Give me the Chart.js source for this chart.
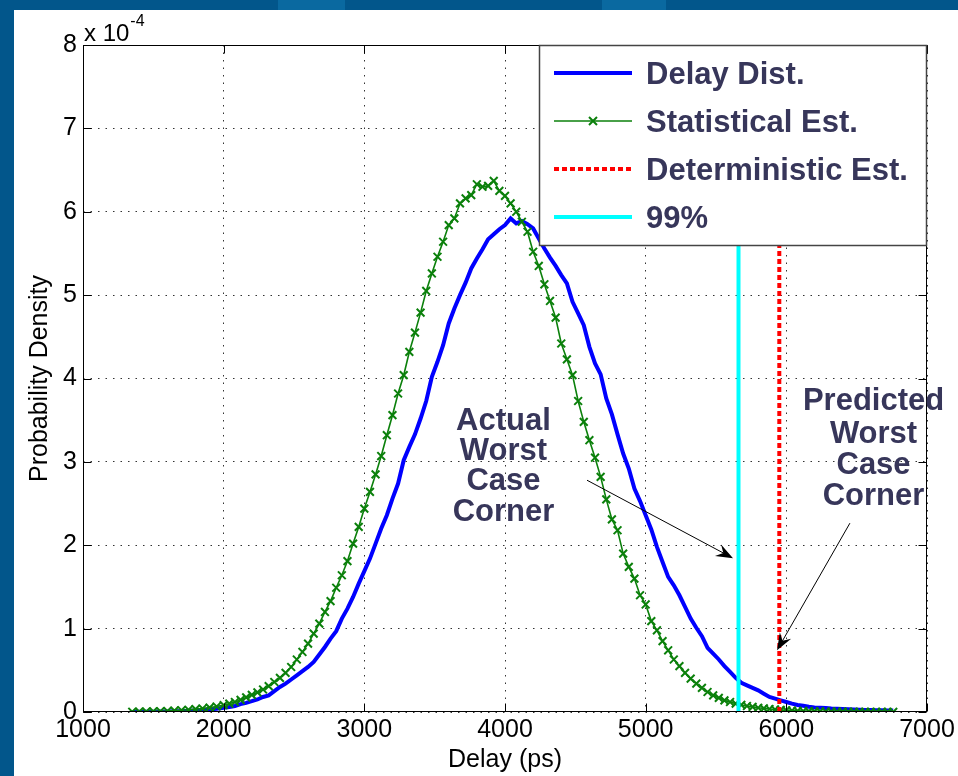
<!DOCTYPE html>
<html>
<head>
<meta charset="utf-8">
<script src="https://cdn.jsdelivr.net/npm/chart.js@4.4.1/dist/chart.umd.min.js"></script>
<style>
html,body{margin:0;padding:0;}
body{width:958px;height:776px;background:#02568b;position:relative;overflow:hidden;}
.patch{position:absolute;top:0;height:10px;background:#0a69a0;}
#panel{position:absolute;left:14px;top:10px;right:0;bottom:0;background:#fff;}
#c{position:absolute;left:0;top:0;}
</style>
</head>
<body>
<div class="patch" style="left:278px;width:67px"></div>
<div class="patch" style="left:602px;width:64px"></div>
<div id="panel"></div>
<canvas id="c" width="958" height="776"></canvas>
<script>
// ---- data (probability density values are in units of 1e-4) ----
const delayPs = [
  1350,1400,1450,1500,1550,1600,1650,1700,1750,1800,1850,1900,1950,2000,
  2040,2080,2120,2160,2200,2240,2280,2320,2360,2400,
  2440,2480,2520,2560,2600,2640,2680,2720,2760,2800,
  2840,2880,2920,2960,3000,3040,3080,3120,3160,3200,
  3240,3280,3320,3360,3400,3440,3480,3520,3560,3600,
  3640,3680,3720,3760,3800,3840,3880,3920,3960,4000,
  4040,4080,4120,4160,4200,4240,4280,4320,4360,4400,
  4440,4480,4520,4560,4600,4640,4680,4720,4760,4800,
  4840,4880,4920,4960,5000,5040,5080,5120,5160,5200,
  5240,5280,5320,5360,5400,5440,5480,5520,5560,5600,
  5640,5680,5720,5760,5800,5840,5880,5920,5960,6000,
  6040,6080,6120,6160,6200,6240,6280,6320,6360,6400,
  6440,6480,6520,6560,6600,6640,6680,6720,6760
];
const delayDist = [
  0.001,0.002,0.003,0.004,0.005,0.006,0.008,0.010,0.014,0.019,0.025,0.031,0.040,0.050,
  0.060,0.072,0.095,0.11,0.13,0.15,0.18,0.20,0.25,0.30,
  0.34,0.39,0.44,0.49,0.54,0.60,0.69,0.78,0.88,0.97,
  1.12,1.24,1.38,1.54,1.69,1.84,2.02,2.20,2.36,2.56,
  2.74,3.02,3.18,3.33,3.52,3.73,4.02,4.20,4.40,4.66,
  4.84,5.00,5.15,5.32,5.44,5.55,5.67,5.73,5.79,5.84,
  5.92,5.86,5.89,5.85,5.80,5.68,5.56,5.45,5.35,5.24,
  5.14,4.92,4.78,4.64,4.38,4.18,4.05,3.76,3.57,3.33,
  3.10,2.92,2.68,2.53,2.36,2.19,1.98,1.80,1.62,1.52,
  1.40,1.26,1.12,1.01,0.91,0.77,0.70,0.63,0.55,0.48,
  0.41,0.35,0.32,0.29,0.26,0.22,0.18,0.16,0.14,0.12,
  0.10,0.085,0.075,0.062,0.055,0.052,0.048,0.042,0.038,0.035,
  0.032,0.029,0.027,0.025,0.023,0.022,0.020,0.019,0.018
];
const statEst = [
  0.003,0.004,0.005,0.007,0.009,0.012,0.016,0.021,0.027,0.034,0.042,0.053,0.066,0.083,
  0.10,0.12,0.145,0.175,0.205,0.235,0.27,0.31,0.36,0.41,
  0.47,0.54,0.63,0.72,0.82,0.94,1.06,1.20,1.33,1.49,
  1.64,1.81,2.02,2.22,2.44,2.64,2.85,3.07,3.32,3.56,
  3.82,4.04,4.32,4.55,4.79,5.05,5.26,5.46,5.64,5.84,
  5.92,6.10,6.16,6.20,6.33,6.30,6.31,6.37,6.25,6.19,
  6.10,6.00,5.88,5.76,5.52,5.35,5.13,4.93,4.73,4.42,
  4.23,4.04,3.73,3.48,3.26,3.05,2.82,2.55,2.31,2.18,
  1.90,1.74,1.60,1.40,1.29,1.09,0.98,0.85,0.74,0.63,
  0.55,0.47,0.40,0.34,0.29,0.24,0.20,0.17,0.14,0.12,
  0.10,0.085,0.072,0.061,0.051,0.043,0.036,0.030,0.025,0.020,
  0.017,0.014,0.012,0.010,0.008,0.007,0.006,0.005,0.004,0.004,
  0.003,0.003,0.002,0.002,0.002,0.001,0.001,0.001,0.001
];
const deterministicEstPs = 5950;
const percentile99Ps = 5660;
const xTicks = [1000,2000,3000,4000,5000,6000,7000];
const yTicks = [0,1,2,3,4,5,6,7,8];
const seriesNames = ['Delay Dist.','Statistical Est.','Deterministic Est.','99%'];
const noteActual = {x:3989, lines:['Actual','Worst','Case','Corner'], y:[3.49,3.12,2.76,2.39]};
const notePredicted = {x:6620, lines:['Predicted','Worst','Case','Corner'], y:[3.72,3.33,2.96,2.59]};
const arrowActual = {from:[4583,2.78], to:[5621,1.845]};
const arrowPredicted = {from:[6452,2.265], to:[5934,0.74]};

// ---- styles ----
const FONT = "'Liberation Sans', Arial, Helvetica, sans-serif";
const TEXT_NAVY = '#37365a';
const BLUE = '#0000ff', GREEN = '#0b800b', RED = '#ff0000', CYAN = '#00ffff';

const toXY = (xs, ys) => xs.map((x, i) => ({x, y: ys[i]}));
const vline = (x) => [{x, y: yTicks[0]}, {x, y: yTicks[yTicks.length-1]}];

function drawArrow(ctx, x1, y1, x2, y2) {
  const a = Math.atan2(y2 - y1, x2 - x1);
  ctx.save();
  ctx.strokeStyle = '#000'; ctx.fillStyle = '#000'; ctx.lineWidth = 1;
  ctx.beginPath(); ctx.moveTo(x1, y1); ctx.lineTo(x2 - Math.cos(a)*8, y2 - Math.sin(a)*8); ctx.stroke();
  ctx.translate(x2, y2); ctx.rotate(a);
  ctx.beginPath(); ctx.moveTo(0, 0); ctx.lineTo(-17, -6.5); ctx.lineTo(-11, 0); ctx.lineTo(-17, 6.5); ctx.closePath(); ctx.fill();
  ctx.restore();
}

const overlay = {
  id: 'overlay',
  afterDraw(chart) {
    const ctx = chart.ctx, ca = chart.chartArea;
    const xs = chart.scales.x, ys = chart.scales.y;
    ctx.save();
    // axes box
    ctx.strokeStyle = '#000'; ctx.lineWidth = 1;
    const L = Math.round(ca.left) + 0.5, R = Math.round(ca.right) - 0.5;
    const T = Math.round(ca.top) + 0.5, B = Math.round(ca.bottom) - 0.5;
    ctx.strokeRect(L, T, R - L, B - T);
    // inner ticks on all sides
    ctx.beginPath();
    xTicks.forEach(v => {
      const px = Math.round(xs.getPixelForValue(v)) + 0.5;
      ctx.moveTo(px, B); ctx.lineTo(px, B - 8);
      ctx.moveTo(px, T); ctx.lineTo(px, T + 8);
    });
    yTicks.forEach(v => {
      const py = Math.round(ys.getPixelForValue(v)) + 0.5;
      ctx.moveTo(L, py); ctx.lineTo(L + 8, py);
      ctx.moveTo(R, py); ctx.lineTo(R - 8, py);
    });
    ctx.stroke();

    // exponent label
    ctx.fillStyle = '#000';
    ctx.textBaseline = 'alphabetic'; ctx.textAlign = 'left';
    ctx.font = '24px ' + FONT;
    ctx.fillText('x 10', ca.left + 1, ca.top - 4);
    const w = ctx.measureText('x 10').width;
    ctx.font = '16px ' + FONT;
    ctx.fillText('-4', ca.left + 2 + w, ca.top - 19);

    // axis titles
    ctx.font = '25px ' + FONT; ctx.textAlign = 'center'; ctx.textBaseline = 'middle';
    ctx.fillText('Delay (ps)', (ca.left + ca.right) / 2, 760);
    ctx.save();
    ctx.translate(40, (ca.top + ca.bottom) / 2);
    ctx.rotate(-Math.PI / 2);
    ctx.fillText('Probability Density', 0, 0);
    ctx.restore();

    // annotations
    ctx.fillStyle = TEXT_NAVY;
    ctx.font = 'bold 31px ' + FONT; ctx.textAlign = 'center'; ctx.textBaseline = 'middle';
    [noteActual, notePredicted].forEach(n => {
      n.lines.forEach((t, i) => ctx.fillText(t, xs.getPixelForValue(n.x), ys.getPixelForValue(n.y[i])));
    });
    [arrowActual, arrowPredicted].forEach(a => {
      drawArrow(ctx, xs.getPixelForValue(a.from[0]), ys.getPixelForValue(a.from[1]),
                     xs.getPixelForValue(a.to[0]), ys.getPixelForValue(a.to[1]));
    });

    // legend (inside top-right corner)
    const lw = 388, lh = 201;
    const lx = Math.round(ca.right) - lw, ly = Math.round(ca.top);
    ctx.fillStyle = '#fff';
    ctx.fillRect(lx, ly, lw, lh);
    ctx.strokeStyle = '#444'; ctx.lineWidth = 1.5;
    ctx.strokeRect(lx + 0.5, ly + 0.5, lw - 1, lh - 1);
    const ds = chart.data.datasets;
    [0, 1, 2, 3].forEach((di, row) => {
      const d = ds[di];
      const cy = ly + 28 + row * 48;
      const x1 = lx + 15, x2 = lx + 93;
      ctx.save();
      ctx.strokeStyle = d.borderColor; ctx.lineWidth = d.borderWidth;
      ctx.setLineDash(d.borderDash || []);
      ctx.beginPath(); ctx.moveTo(x1, cy); ctx.lineTo(x2, cy); ctx.stroke();
      ctx.setLineDash([]);
      if (d.pointStyle === 'crossRot') {
        const mx = (x1 + x2) / 2, r = 4;
        ctx.lineWidth = 2;
        ctx.beginPath();
        ctx.moveTo(mx - r, cy - r); ctx.lineTo(mx + r, cy + r);
        ctx.moveTo(mx - r, cy + r); ctx.lineTo(mx + r, cy - r);
        ctx.stroke();
      }
      ctx.restore();
      ctx.fillStyle = TEXT_NAVY; ctx.font = 'bold 31px ' + FONT;
      ctx.textAlign = 'left'; ctx.textBaseline = 'alphabetic';
      ctx.fillText(d.label, lx + 107, cy + 11);
    });
    ctx.restore();
  }
};

new Chart(document.getElementById('c'), {
  type: 'line',
  data: {
    datasets: [
      {label: seriesNames[0], data: toXY(delayPs, delayDist), borderColor: BLUE, borderWidth: 4,
       pointRadius: 0, tension: 0, order: 4},
      {label: seriesNames[1], data: toXY(delayPs, statEst), borderColor: GREEN, borderWidth: 1.6,
       pointStyle: 'crossRot', pointRadius: 5.5, pointBorderWidth: 2, pointBorderColor: GREEN,
       pointBackgroundColor: GREEN, tension: 0, order: 3},
      {label: seriesNames[2], data: vline(deterministicEstPs), borderColor: RED, borderWidth: 4,
       borderDash: [5, 3], pointRadius: 0, order: 2},
      {label: seriesNames[3], data: vline(percentile99Ps), borderColor: CYAN, borderWidth: 4,
       pointRadius: 0, order: 1}
    ]
  },
  options: {
    responsive: false,
    animation: false,
    events: [],
    layout: {padding: {left: 0, top: 45, right: 31, bottom: 0}},
    plugins: {legend: {display: false}, tooltip: {enabled: false}},
    scales: {
      x: {
        type: 'linear', min: xTicks[0], max: xTicks[xTicks.length-1],
        afterBuildTicks: s => { s.ticks = xTicks.map(v => ({value: v})); },
        afterFit: s => { s.height = 64; },
        ticks: {callback: v => String(v), color: '#000', font: {family: FONT, size: 25},
                padding: 3, maxRotation: 0, autoSkip: false},
        grid: {color: '#333', lineWidth: 1, drawTicks: false},
        border: {display: false, dash: [1.5, 6]}
      },
      y: {
        min: yTicks[0], max: yTicks[yTicks.length-1],
        afterBuildTicks: s => { s.ticks = yTicks.map(v => ({value: v})); },
        afterFit: s => { s.width = 83; },
        ticks: {callback: v => String(v), color: '#000', font: {family: FONT, size: 25},
                padding: 6, autoSkip: false},
        grid: {color: '#333', lineWidth: 1, drawTicks: false},
        border: {display: false, dash: [1.5, 6]}
      }
    }
  },
  plugins: [overlay]
});
</script>
</body>
</html>
